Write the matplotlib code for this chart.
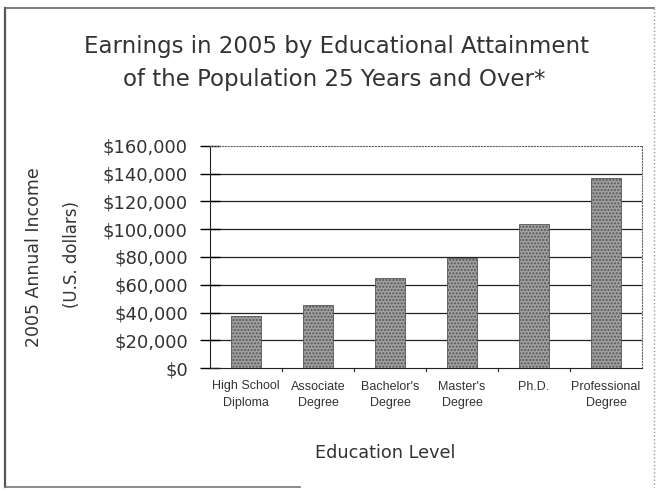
import matplotlib.pyplot as plt
from matplotlib.lines import Line2D

categories = ["High School\nDiploma", "Associate\nDegree", "Bachelor's\nDegree",
              "Master's\nDegree", "Ph.D.", "Professional\nDegree"]
income = [37500, 45400, 65000, 79000, 104000, 137000]
yticks = [0, 20000, 40000, 60000, 80000, 100000, 120000, 140000, 160000]

plt.rcParams['font.family'] = ['DejaVu Sans']
txt = '#333333'
W, H = 656, 492

fig = plt.figure(figsize=(6.56, 4.92), dpi=100)
ax = fig.add_axes([210 / W, 1 - 368 / H, 432 / W, 222 / H])

x = list(range(len(categories)))
ax.bar(x, income, width=0.42, color='#a0a0a0', edgecolor='#555555',
       hatch='.....', linewidth=0.6, zorder=3)

ax.set_xlim(-0.5, len(categories) - 0.5)
ax.set_ylim(0, 160000)
ax.set_yticks(yticks)
ax.set_yticklabels(['${:,}'.format(v) for v in yticks], fontsize=13, color=txt)
ax.set_xticks(x)
ax.set_xticklabels(categories, fontsize=9, color=txt, linespacing=1.55,
                   family='Liberation Sans')
ax.tick_params(axis='x', length=0, pad=9)
ax.tick_params(axis='y', direction='inout', length=14, width=1, pad=9)

for v in yticks[1:-1]:
    ax.axhline(v, color='#222222', lw=0.9, zorder=1)

for s in ['top', 'right']:
    ax.spines[s].set_linestyle(':')
    ax.spines[s].set_color('#666666')
    ax.spines[s].set_linewidth(0.8)
ax.spines['left'].set_color('#222222')
ax.spines['bottom'].set_color('#222222')

# category separator ticks on the x axis
for b in x[1:]:
    ax.plot([b - 0.5, b - 0.5], [0, -2500], color='#222222', lw=0.8,
            clip_on=False)

fig.text(385 / W, 1 - 453 / H, 'Education Level', ha='center', va='center',
         fontsize=12.7, color=txt)
fig.text(34 / W, 1 - 257 / H, '2005 Annual Income', rotation=90,
         ha='center', va='center', fontsize=12.5, color=txt)
fig.text(72 / W, 1 - 254 / H, '(U.S. dollars)', rotation=90,
         ha='center', va='center', fontsize=12, color=txt)

fig.text(337 / W, 1 - 47 / H, 'Earnings in 2005 by Educational Attainment',
         ha='center', va='center', fontsize=16.5, color=txt)
fig.text(334 / W, 1 - 79 / H, 'of the Population 25 Years and Over*',
         ha='center', va='center', fontsize=16.5, color=txt)

# outer chart frame
frame = [((5, 5), (8, 487), '#555555', '-', 1.6),
         ((5, 654), (8, 8), '#666666', '-', 1.2),
         ((654, 654), (8, 487), '#999999', ':', 1.0),
         ((5, 300), (487, 487), '#777777', '-', 1.2)]
for xs, ys, c, ls, lw in frame:
    fig.lines.append(Line2D([v / W for v in xs], [1 - v / H for v in ys],
                            transform=fig.transFigure, color=c, ls=ls, lw=lw))

fig.savefig('out.png', dpi=100)
